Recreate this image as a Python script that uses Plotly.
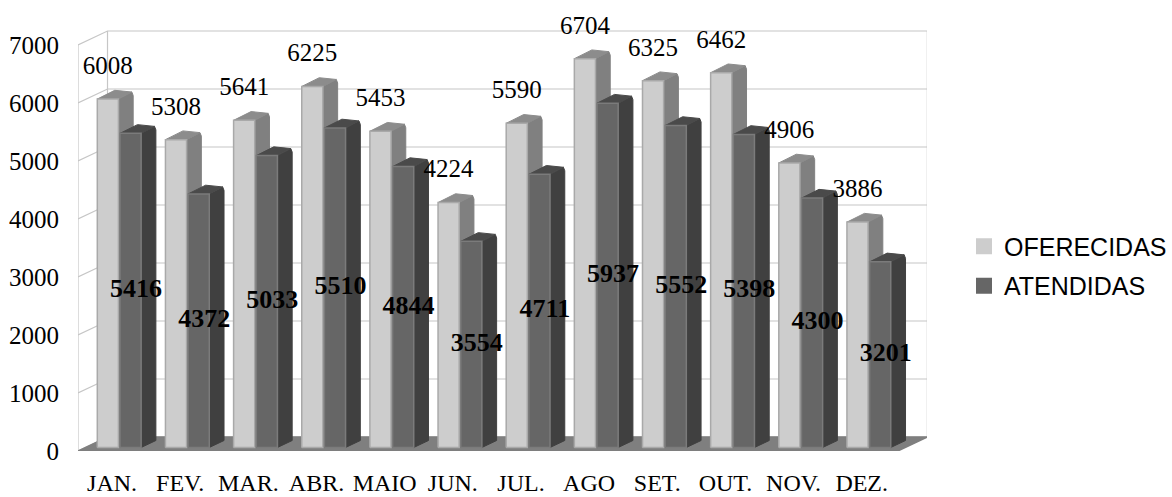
import plotly.graph_objects as go

# Monthly figures
months = ["JAN.", "FEV.", "MAR.", "ABR.", "MAIO", "JUN.", "JUL.", "AGO", "SET.", "OUT.", "NOV.", "DEZ."]
oferecidas = [6008, 5308, 5641, 6225, 5453, 4224, 5590, 6704, 6325, 6462, 4906, 3886]
atendidas = [5416, 4372, 5033, 5510, 4844, 3554, 4711, 5937, 5552, 5398, 4300, 3201]
y_ticks = [0, 1000, 2000, 3000, 4000, 5000, 6000, 7000]

# Oblique projection: depth d in 0..1 shifts a point right and upward
DEPTH_X = 0.433
DEPTH_Y = 241
X_END = 12.03
BAR_W = 0.31
D_FRONT, D_BACK = 0.25, 0.75
OFFSET_LIGHT, OFFSET_DARK = 0.175, 0.508


def proj(x, y, d):
    return x + d * DEPTH_X, y + d * DEPTH_Y


def polygons(values, offset):
    """Front, side and top faces of every bar in a series, as None-separated paths."""
    faces = {"front": ([], []), "side": ([], []), "top": ([], [])}
    for i, v in enumerate(values):
        x0 = i + offset
        x1 = x0 + BAR_W
        cut = 0.02
        paths = {
            "front": [(x0, 0, D_FRONT), (x1, 0, D_FRONT), (x1, v, D_FRONT), (x0, v, D_FRONT), (x0, 0, D_FRONT)],
            "side": [(x1, 0, D_FRONT), (x1, 0, D_BACK), (x1, v - 60, D_BACK), (x1 - cut, v, D_BACK),
                     (x1, v, D_FRONT), (x1, 0, D_FRONT)],
            "top": [(x0, v, D_FRONT), (x0 + 0.04, v + 30, D_BACK), (x1 - cut, v, D_BACK),
                    (x1, v, D_FRONT), (x0, v, D_FRONT)],
        }
        for name, path in paths.items():
            for px, py, d in path:
                qx, qy = proj(px, py, d)
                faces[name][0].append(qx)
                faces[name][1].append(qy)
            faces[name][0].append(None)
            faces[name][1].append(None)
    return faces


def area(xs, ys, fill, line=None, width=1.5):
    return go.Scatter(x=xs, y=ys, mode="lines", fill="toself", fillcolor=fill,
                      line=dict(color=line or fill, width=width),
                      hoverinfo="skip", showlegend=False, cliponaxis=False)


fig = go.Figure()

# Walls and gridlines
GRID = "#c6c6c6"
gx, gy = [], []
for t in y_ticks:
    bx, by = proj(0, t, 1)
    gx += [0, bx, proj(X_END, t, 1)[0], None]
    gy += [t, by, by, None]
top_y = proj(0, y_ticks[-1], 1)[1]
floor_y = proj(0, 0, 1)[1]
gx += [0, 0, None, DEPTH_X, DEPTH_X, None, X_END + DEPTH_X, X_END + DEPTH_X, None]
gy += [0, y_ticks[-1], None, floor_y, top_y, None, floor_y, top_y, None]
fig.add_trace(go.Scatter(x=gx, y=gy, mode="lines", line=dict(color=GRID, width=1.2),
                         hoverinfo="skip", showlegend=False, cliponaxis=False))

# Floor
fig.add_trace(area([0, X_END, X_END + DEPTH_X, DEPTH_X, 0], [0, 0, floor_y, floor_y, 0], "#7f7f7f"))

# Bars: side and top first, then the front faces
series = [
    (oferecidas, OFFSET_LIGHT, "#cdcdcd", "#a9a9a9", "#808080", "#8c8c8c"),
    (atendidas, OFFSET_DARK, "#666666", "#7b7b7b", "#404040", "#4a4a4a"),
]
for values, offset, front, edge, side, top in series:
    f = polygons(values, offset)
    fig.add_trace(area(*f["side"], side, width=1))
    fig.add_trace(area(*f["top"], top, width=1))
    fig.add_trace(area(*f["front"], front, line=edge, width=1.5))

# Value labels
lx, ly = [], []
for i, v in enumerate(oferecidas):
    qx, qy = proj(i + OFFSET_LIGHT + BAR_W / 2, v + 540, D_FRONT)
    lx.append(qx)
    ly.append(qy)
fig.add_trace(go.Scatter(x=lx, y=ly, mode="text", text=[str(v) for v in oferecidas],
                         textposition="middle center",
                         textfont=dict(family="Liberation Serif", size=25, color="#000000"),
                         hoverinfo="skip", showlegend=False, cliponaxis=False))
dx, dy = [], []
for i, v in enumerate(atendidas):
    qx, qy = proj(i + OFFSET_DARK + BAR_W / 2 + 0.08, v / 2, D_FRONT)
    dx.append(qx)
    dy.append(qy)
fig.add_trace(go.Scatter(x=dx, y=dy, mode="text", text=[str(v) for v in atendidas],
                         textposition="middle center",
                         textfont=dict(family="Liberation Serif", size=26, color="#000000", weight="bold"),
                         hoverinfo="skip", showlegend=False, cliponaxis=False))

# Legend keys
for name, colour in (("OFERECIDAS", "#cdcdcd"), ("ATENDIDAS", "#666666")):
    fig.add_trace(go.Scatter(x=[None], y=[None], mode="markers", name=name, legendgroup=name,
                             marker=dict(symbol="square", size=16, color=colour)))

fig.update_layout(
    width=1172,
    height=497,
    margin=dict(l=78, r=245, t=11, b=46),
    paper_bgcolor="#ffffff",
    plot_bgcolor="#ffffff",
    xaxis=dict(range=[0, 12.458], tickmode="array", tickvals=[i + 0.5 for i in range(len(months))],
               ticktext=months, showgrid=False, zeroline=False, showline=False, ticks="",
               ticklabelstandoff=15, automargin=False,
               tickfont=dict(family="Liberation Serif", size=24, color="#000000")),
    yaxis=dict(range=[0, 7586], tickmode="array", tickvals=y_ticks, showgrid=False, zeroline=False,
               showline=False, ticks="", ticklabelstandoff=18, automargin=False,
               tickfont=dict(family="Liberation Serif", size=25, color="#000000")),
    legend=dict(xref="container", yref="container", x=1.0, xanchor="right", y=0.4648, yanchor="middle",
                tracegroupgap=4, itemsizing="trace", itemwidth=30,
                font=dict(family="Liberation Sans", size=25, color="#000000")),
    showlegend=True,
)

fig.write_html("out.html", config={"displayModeBar": False})
